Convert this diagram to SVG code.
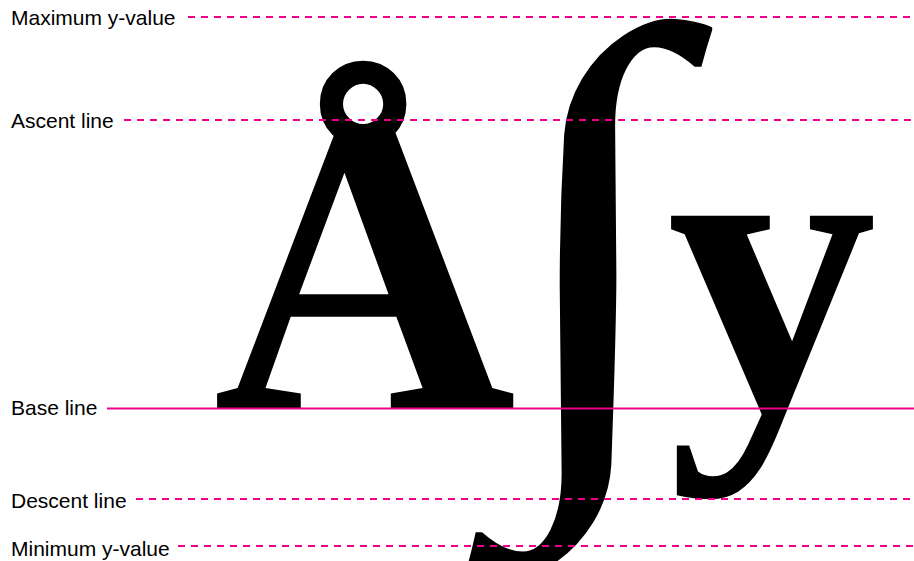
<svg xmlns="http://www.w3.org/2000/svg" width="914" height="561" viewBox="0 0 914 561">
<style>
.lbl{font-family:"Liberation Sans",Arial,sans-serif;font-size:21px;fill:#000}
.glyph{font-family:"Liberation Serif","Times New Roman",serif;font-weight:bold;font-size:100px;fill:#000;text-rendering:geometricPrecision}
.dash{stroke:#ec008c;stroke-width:2;stroke-dasharray:7 6;fill:none}
.solid{stroke:#ec008c;stroke-width:2;fill:none}
</style>
<rect width="914" height="561" fill="#fff"/>
<g id="glyph-A"><text class="glyph" text-rendering="geometricPrecision" transform="translate(213,408.5) scale(4.2)">Å</text></g>
<g id="glyph-integral"><text class="glyph" text-rendering="geometricPrecision" transform="translate(500.5,427) scale(6.52,5.72)">∫</text></g>
<g id="glyph-y"><text class="glyph" text-rendering="geometricPrecision" transform="translate(667,408.5) scale(4.2)">y</text></g>
<g id="lines">
<line class="dash" x1="188" y1="17" x2="914" y2="17"/>
<line class="dash" x1="124" y1="120" x2="914" y2="120"/>
<line class="solid" x1="107" y1="408.5" x2="914" y2="408.5"/>
<line class="dash" x1="136" y1="499" x2="914" y2="499"/>
<line class="dash" x1="178" y1="546" x2="914" y2="546"/>
</g>
<g id="labels">
<text class="lbl" x="11" y="25">Maximum y-value</text>
<text class="lbl" x="11" y="128">Ascent line</text>
<text class="lbl" x="11" y="415">Base line</text>
<text class="lbl" x="11" y="508">Descent line</text>
<text class="lbl" x="11" y="555.5">Minimum y-value</text>
</g>
</svg>
